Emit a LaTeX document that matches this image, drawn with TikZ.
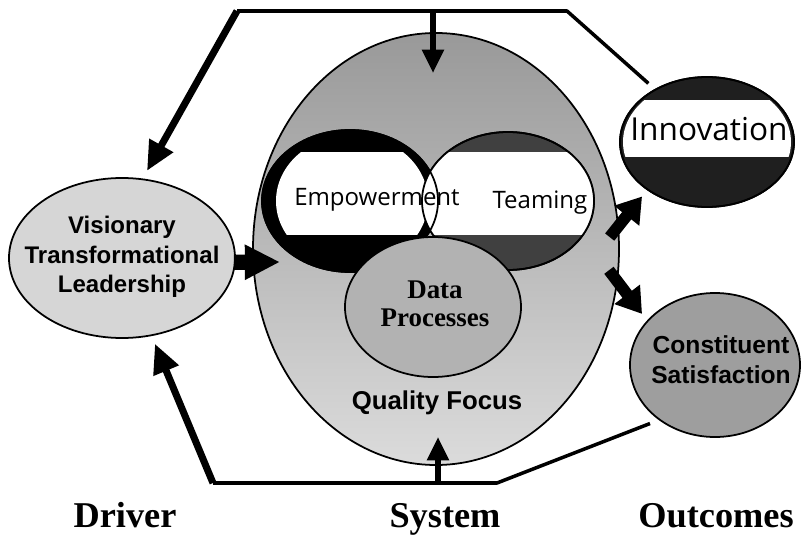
\documentclass[tikz,border=0pt]{standalone}
\usepackage{fontspec}
\setmainfont{Liberation Serif}
\setsansfont{Liberation Sans}
\newfontfamily\handfont{Open Sans}
\usetikzlibrary{shapes.geometric,arrows.meta}
\begin{document}
\begin{tikzpicture}[x=0.03cm, y=-0.03cm, text centered, line join=round,
  blob/.style={ellipse, draw, line width=1.5pt, inner sep=0pt, outer sep=0.27cm},
  wire/.style={line width=3pt},
  fat/.style={line width=6pt, -{Triangle[length=25pt,width=22pt]}},
  mid/.style={line width=10pt, -{Triangle[length=21pt,width=26pt]}},
  stub/.style={line width=4.5pt, -{Triangle[length=20pt,width=18pt]}},
  sans/.style={font=\sffamily\bfseries\fontsize{20.5}{25}\selectfont, align=center},
  hand/.style={font=\handfont\fontsize{20.5}{24}\selectfont},
  lab/.style={font=\bfseries\fontsize{31}{36}\selectfont, anchor=base}]
\useasboundingbox (0,0) rectangle (801,535);
\node[blob, outer sep=0pt, top color=black!40, bottom color=black!14, minimum width=10.98cm, minimum height=12.96cm] (sys) at (436,249) {};
\node[blob, fill=black, minimum width=5.28cm, minimum height=4.26cm] (emp) at (350,201) {};
\node[blob, fill=black!75, minimum width=5.16cm, minimum height=4.14cm] (team) at (508,201) {};
\begin{scope}
\clip (352,201) ellipse [x radius=76, y radius=66] (508,201) ellipse [x radius=86, y radius=69];
\fill[white] (250,152) rectangle (610,235);
\end{scope}
\draw[line width=1.5pt] (emp.center) ellipse [x radius=88, y radius=71] (team.center) ellipse [x radius=86, y radius=69];
\node[hand] (empt) at (377,200) {Empowerment};
\node[hand] (teamt) at (540,203) {Teaming};
\node[blob, fill=black!30, minimum width=5.28cm, minimum height=4.2cm] (data) at (433,307) {};
\node[font=\bfseries\fontsize{23}{24}\selectfont, align=center] (datat) at (435,304) {Data\\Processes};
\node[sans, font=\sffamily\bfseries\fontsize{22}{26}\selectfont] (qual) at (437,403) {Quality Focus};
\node[blob, fill=black!16, minimum width=6.78cm, minimum height=4.8cm] (lead) at (122,258) {};
\node[sans] (leadt) at (122,257) {Visionary\\Transformational\\Leadership};
\node[blob, fill=black!88, minimum width=5.22cm, minimum height=3.9cm] (inno) at (707,142) {};
\begin{scope}
\clip (707,142) ellipse [x radius=84, y radius=63];
\fill[white] (600,100) rectangle (800,157);
\end{scope}
\draw[line width=1.5pt] (inno.center) ellipse [x radius=87, y radius=65];
\node[hand, font=\handfont\fontsize{27}{30}\selectfont] (innot) at (709,129) {Innovation};
\node[blob, fill=black!38, minimum width=5.1cm, minimum height=4.32cm] (const) at (715,365) {};
\node[sans, font=\sffamily\bfseries\fontsize{21}{25.5}\selectfont] (constt) at (721,360) {Constituent\\Satisfaction};
\coordinate (tl) at (237,11);
\coordinate (tr) at (567,11);
\coordinate (tm) at (433,11);
\coordinate (sysin) at (433,73);
\coordinate (bl) at (213,483);
\coordinate (br) at (497,483);
\coordinate (bm) at (438,483);
\coordinate (sysout) at (438,437);
\coordinate (ldin) at (280,262);
\draw[wire] (inno.135) -- (tr) -- (tl);
\draw[fat] (tl) -- (lead.74);
\draw[stub] (tm) -- (sysin);
\draw[wire] (const.222) -- (br) -- (bl);
\draw[fat] (bl) -- (lead.-69);
\draw[stub] (bm) -- (sysout);
\draw[line width=13pt, -{Triangle[length=30pt,width=28pt]}, shorten <=-0.3cm] (lead.-2) -- (ldin);
\draw[mid, shorten <=-0.4cm] (sys.7) -- (inno.220);
\draw[mid, shorten <=-0.4cm] (sys.-10) -- (const.145);
\node[lab] (drv) at (125,527) {Driver};
\node[lab] (syst) at (445,527) {System};
\node[lab] (outc) at (716,527) {Outcomes};
\end{tikzpicture}
\end{document}
